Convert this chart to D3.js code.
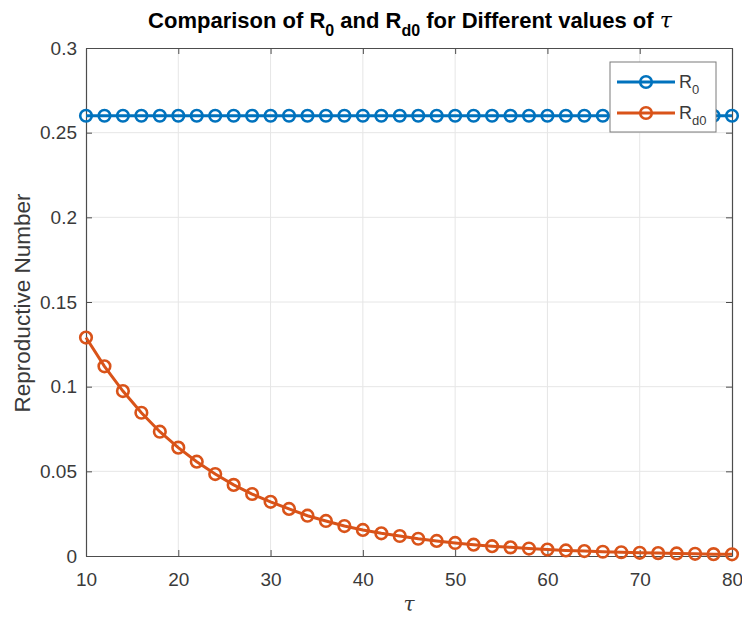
<html>
<head>
<script src="https://d3js.org/d3.v7.min.js"></script>
<style>
  body { margin: 0; background: #fff; }
  text { font-family: "Liberation Sans", Arial, sans-serif; }
</style>
</head>
<body>
<div id="chart"></div>
<script>
// tau values (every 2 from 10 to 80)
const tau = [10,12,14,16,18,20,22,24,26,28,30,32,34,36,38,40,42,44,46,48,50,52,54,56,58,60,62,64,66,68,70,72,74,76,78,80];
const r0 = [0.26,0.26,0.26,0.26,0.26,0.26,0.26,0.26,0.26,0.26,0.26,0.26,0.26,0.26,0.26,0.26,0.26,0.26,0.26,0.26,0.26,0.26,0.26,0.26,0.26,0.26,0.26,0.26,0.26,0.26,0.26,0.26,0.26,0.26,0.26,0.26];
const rd0 = [0.129,0.112,0.0974,0.0846,0.0734,0.064,0.0557,0.0484,0.042,0.0366,0.032,0.0278,0.0238,0.0207,0.0177,0.0154,0.0134,0.0118,0.0102,0.0089,0.0077,0.0067,0.0058,0.0051,0.0044,0.0038,0.0033,0.0029,0.0025,0.0022,0.0019,0.0017,0.0015,0.0013,0.0011,0.001];
const xTicks = [10,20,30,40,50,60,70,80];
const yTicks = [0,0.05,0.1,0.15,0.2,0.25,0.3];

const W = 742, H = 619;
const margin = {top: 48, right: 10, bottom: 63, left: 86};
const width = 732 - margin.left;
const height = 556 - margin.top;
const blue = "#0072BD", orange = "#D95319", axisCol = "#4d4d4d", textCol = "#3a3a3a";

const svg = d3.select("#chart").append("svg")
  .attr("width", W).attr("height", H);
const g = svg.append("g").attr("transform", "translate(" + margin.left + "," + margin.top + ")");

const x = d3.scaleLinear().domain([10, 80]).range([0, width]);
const y = d3.scaleLinear().domain([0, 0.3]).range([height, 0]);

// grid
g.append("g").selectAll("line").data(xTicks.slice(1, -1)).enter().append("line")
  .attr("x1", d => x(d)).attr("x2", d => x(d)).attr("y1", 0).attr("y2", height)
  .attr("stroke", "#e6e6e6").attr("stroke-width", 1);
g.append("g").selectAll("line").data(yTicks.slice(1, -1)).enter().append("line")
  .attr("y1", d => y(d)).attr("y2", d => y(d)).attr("x1", 0).attr("x2", width)
  .attr("stroke", "#e6e6e6").attr("stroke-width", 1);

// axes (ticks inward)
function styleAxis(sel) {
  sel.select(".domain").attr("stroke", axisCol).attr("stroke-width", 1.2);
  sel.selectAll(".tick line").attr("stroke", axisCol);
  sel.selectAll(".tick text").attr("fill", textCol).style("font-size", "19px");
}
const fmt = d => d3.format("")(+d.toFixed(2));
g.append("g").attr("transform", "translate(0," + height + ")")
  .call(d3.axisBottom(x).tickValues(xTicks).tickSize(-6).tickSizeOuter(0).tickPadding(17))
  .call(styleAxis);
g.append("g")
  .call(d3.axisLeft(y).tickValues(yTicks).tickFormat(fmt).tickSize(-6).tickSizeOuter(0).tickPadding(9))
  .call(styleAxis);
g.append("g")
  .call(d3.axisTop(x).tickValues(xTicks).tickSize(-6).tickSizeOuter(0).tickFormat(""))
  .call(styleAxis);
g.append("g").attr("transform", "translate(" + width + ",0)")
  .call(d3.axisRight(y).tickValues(yTicks).tickSize(-6).tickSizeOuter(0).tickFormat(""))
  .call(styleAxis);

// series
const series = [
  {name: "0", vals: r0, color: blue},
  {name: "d0", vals: rd0, color: orange}
];
const line = d3.line().x(d => x(d[0])).y(d => y(d[1]));
series.forEach(s => {
  const pts = tau.map((t, i) => [t, s.vals[i]]);
  g.append("path").datum(pts).attr("d", line)
    .attr("fill", "none").attr("stroke", s.color).attr("stroke-width", 3);
  g.append("g").selectAll("circle").data(pts).enter().append("circle")
    .attr("cx", d => x(d[0])).attr("cy", d => y(d[1])).attr("r", 5.8)
    .attr("fill", "none").attr("stroke", s.color).attr("stroke-width", 2.6);
});

// legend
const lg = svg.append("g").attr("transform", "translate(610,62)");
lg.append("rect").attr("width", 106).attr("height", 70)
  .attr("fill", "#fff").attr("stroke", "#7a7a7a").attr("stroke-width", 1);
series.forEach((s, i) => {
  const yy = 20 + i * 31;
  lg.append("line").attr("x1", 7).attr("x2", 65).attr("y1", yy).attr("y2", yy)
    .attr("stroke", s.color).attr("stroke-width", 3);
  lg.append("circle").attr("cx", 36).attr("cy", yy).attr("r", 5.8)
    .attr("fill", "none").attr("stroke", s.color).attr("stroke-width", 2.6);
  const t = lg.append("text").attr("x", 69).attr("y", yy + 6)
    .attr("fill", textCol).style("font-size", "18px");
  t.append("tspan").text("R");
  t.append("tspan").attr("dy", 6).style("font-size", "13px").text(s.name);
});

// title
const title = svg.append("text").attr("x", 410).attr("y", 28)
  .attr("text-anchor", "middle").style("font-size", "22px").style("font-weight", "bold").attr("fill", "#000");
title.append("tspan").text("Comparison of R");
title.append("tspan").attr("dy", 8).style("font-size", "16px").text("0");
title.append("tspan").attr("dy", -8).text(" and R");
title.append("tspan").attr("dy", 8).style("font-size", "16px").text("d0");
title.append("tspan").attr("dy", -8).text(" for Different values of ");
title.append("tspan").style("font-family", "'DejaVu Serif', serif").style("font-style", "italic").style("font-weight", "normal").text("τ");

// axis labels
svg.append("text").attr("x", 409).attr("y", 611).attr("text-anchor", "middle")
  .style("font-family", "'DejaVu Serif', serif").style("font-style", "italic")
  .style("font-size", "20px").attr("fill", textCol).text("τ");
svg.append("text").attr("transform", "translate(30,303) rotate(-90)")
  .attr("text-anchor", "middle").style("font-size", "22.5px").attr("fill", textCol)
  .text("Reproductive Number");
</script>
</body>
</html>
